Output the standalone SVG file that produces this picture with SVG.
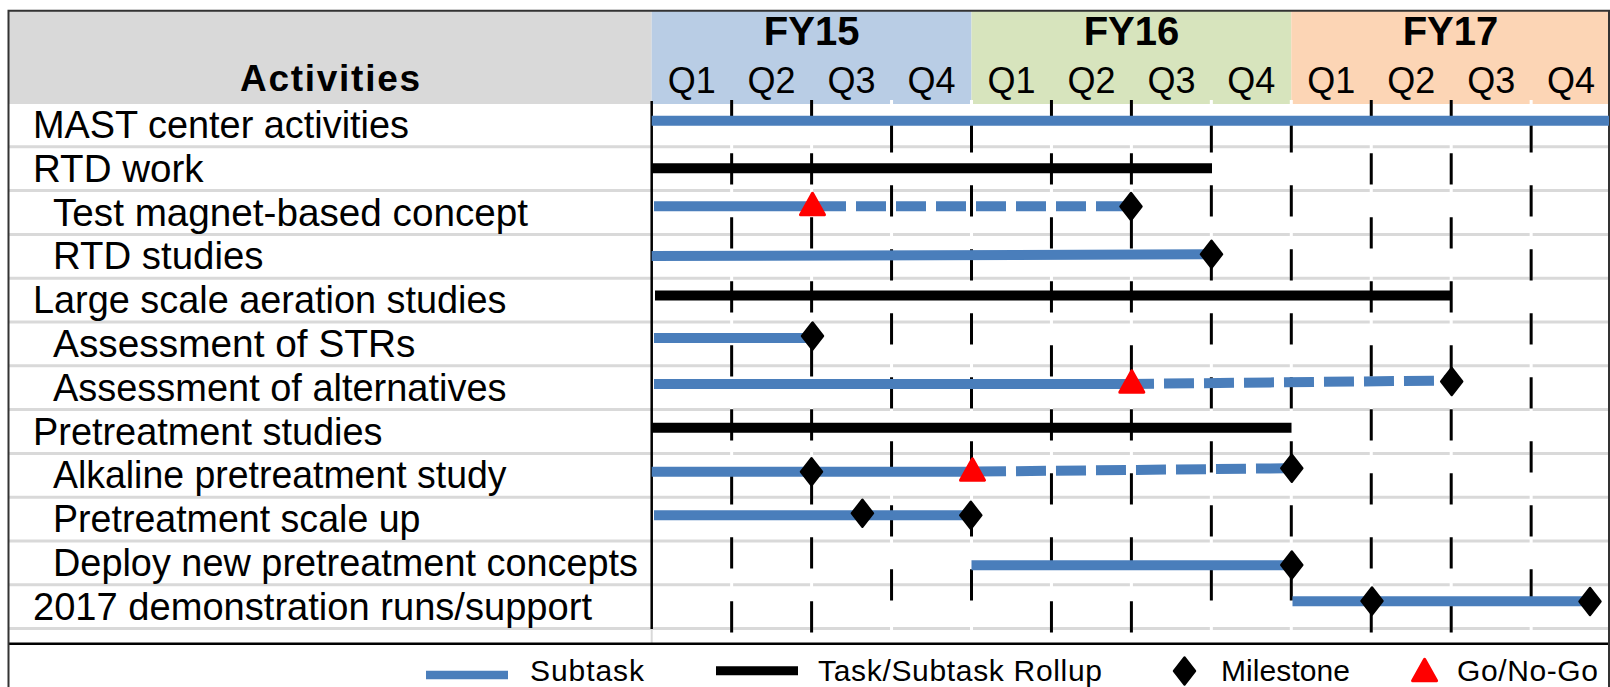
<svg xmlns="http://www.w3.org/2000/svg" width="1610" height="687" viewBox="0 0 1610 687">
<style>
.lbl{font-family:"Liberation Sans",Arial,sans-serif;font-size:38.3px;fill:#000}
.hdr{font-family:"Liberation Sans",Arial,sans-serif;font-weight:bold;fill:#000}
.q{font-family:"Liberation Sans",Arial,sans-serif;font-size:36px;fill:#000;text-anchor:middle}
.leg{font-family:"Liberation Sans",Arial,sans-serif;font-size:30px;fill:#000}
.row{stroke:#d9d9d9;stroke-width:3}
.wv{stroke:#fff;stroke-width:3}
.gA{stroke:#000;stroke-width:3;stroke-dasharray:31.3 32.7;stroke-dashoffset:10.7}
.gB{stroke:#000;stroke-width:3;stroke-dasharray:31.3 32.7;stroke-dashoffset:42.7}
.sub{stroke:#4a7ebb;stroke-width:10;fill:none}
.subd{stroke:#4a7ebb;stroke-width:10;fill:none;stroke-dasharray:30 10}
.roll{stroke:#000;stroke-width:10;fill:none}
</style>
<defs>
<polygon id="dia" points="0,-13.5 10.5,0 0,13.5 -10.5,0" fill="#000" stroke="#000" stroke-width="2.5" stroke-linejoin="round"/>
<polygon id="tri" points="0,-11 12,10.5 -12,10.5" fill="#ff0000" stroke="#ff0000" stroke-width="3" stroke-linejoin="round"/>
</defs>
<rect width="1610" height="687" fill="#fff"/>
<g id="header">
<rect x="8.5" y="10.7" width="643.2" height="93.3" fill="#d9d9d9"/>
<rect x="651.7" y="10.7" width="319.8" height="93.3" fill="#b9cde5"/>
<rect x="971.5" y="10.7" width="319.8" height="93.3" fill="#d7e4bd"/>
<rect x="1291.3" y="10.7" width="318" height="93.3" fill="#fcd5b5"/>
<text class="hdr" x="330" y="91" font-size="37" text-anchor="middle" textLength="180">Activities</text>
<text class="hdr" x="811.6" y="45" font-size="40" text-anchor="middle">FY15</text>
<text class="hdr" x="1131.5" y="45" font-size="40" text-anchor="middle">FY16</text>
<text class="hdr" x="1450.5" y="45" font-size="40" text-anchor="middle">FY17</text>
<text class="q" x="691.7" y="93">Q1</text>
<text class="q" x="771.6" y="93">Q2</text>
<text class="q" x="851.6" y="93">Q3</text>
<text class="q" x="931.5" y="93">Q4</text>
<text class="q" x="1011.5" y="93">Q1</text>
<text class="q" x="1091.4" y="93">Q2</text>
<text class="q" x="1171.4" y="93">Q3</text>
<text class="q" x="1251.3" y="93">Q4</text>
<text class="q" x="1331.3" y="93">Q1</text>
<text class="q" x="1411.2" y="93">Q2</text>
<text class="q" x="1491.2" y="93">Q3</text>
<text class="q" x="1571.1" y="93">Q4</text>
</g>
<g id="grid">
<line class="row" x1="8.5" y1="146.8" x2="1609" y2="146.8"/>
<line class="row" x1="8.5" y1="190.6" x2="1609" y2="190.6"/>
<line class="row" x1="8.5" y1="234.4" x2="1609" y2="234.4"/>
<line class="row" x1="8.5" y1="278.2" x2="1609" y2="278.2"/>
<line class="row" x1="8.5" y1="322" x2="1609" y2="322"/>
<line class="row" x1="8.5" y1="365.8" x2="1609" y2="365.8"/>
<line class="row" x1="8.5" y1="409.6" x2="1609" y2="409.6"/>
<line class="row" x1="8.5" y1="453.4" x2="1609" y2="453.4"/>
<line class="row" x1="8.5" y1="497.2" x2="1609" y2="497.2"/>
<line class="row" x1="8.5" y1="541" x2="1609" y2="541"/>
<line class="row" x1="8.5" y1="584.8" x2="1609" y2="584.8"/>
<line class="row" x1="8.5" y1="628.6" x2="1609" y2="628.6"/>
<g>
<line class="wv" x1="731.65" y1="100" x2="731.65" y2="633"/>
<line class="wv" x1="811.6" y1="100" x2="811.6" y2="633"/>
<line class="wv" x1="891.55" y1="100" x2="891.55" y2="633"/>
<line class="wv" x1="971.5" y1="100" x2="971.5" y2="633"/>
<line class="wv" x1="1051.45" y1="100" x2="1051.45" y2="633"/>
<line class="wv" x1="1131.4" y1="100" x2="1131.4" y2="633"/>
<line class="wv" x1="1211.35" y1="100" x2="1211.35" y2="633"/>
<line class="wv" x1="1291.3" y1="100" x2="1291.3" y2="633"/>
<line class="wv" x1="1371.25" y1="100" x2="1371.25" y2="633"/>
<line class="wv" x1="1451.2" y1="100" x2="1451.2" y2="633"/>
<line class="wv" x1="1531.15" y1="100" x2="1531.15" y2="633"/>
</g>
<g>
<line class="gA" x1="731.65" y1="100" x2="731.65" y2="633"/>
<line class="gA" x1="811.6" y1="100" x2="811.6" y2="633"/>
<line class="gB" x1="891.55" y1="100" x2="891.55" y2="633"/>
<line class="gB" x1="971.5" y1="100" x2="971.5" y2="633"/>
<line class="gA" x1="1051.45" y1="100" x2="1051.45" y2="633"/>
<line class="gA" x1="1131.4" y1="100" x2="1131.4" y2="633"/>
<line class="gB" x1="1211.35" y1="100" x2="1211.35" y2="633"/>
<line class="gB" x1="1291.3" y1="100" x2="1291.3" y2="633"/>
<line class="gA" x1="1371.25" y1="100" x2="1371.25" y2="633"/>
<line class="gA" x1="1451.2" y1="100" x2="1451.2" y2="633"/>
<line class="gB" x1="1531.15" y1="100" x2="1531.15" y2="633"/>
</g>
<line x1="651.7" y1="101" x2="651.7" y2="629" stroke="#000" stroke-width="2.5"/>
<line x1="651.7" y1="629" x2="651.7" y2="643" stroke="#d9d9d9" stroke-width="2"/>
<line x1="8.5" y1="643.7" x2="1609" y2="643.7" stroke="#000" stroke-width="2.5"/>
<path d="M8.5,687 V10.7 H1609 V687" fill="none" stroke="#333" stroke-width="2"/>
</g>
<g id="labels">
<text class="lbl" x="33" y="138" textLength="376" lengthAdjust="spacingAndGlyphs">MAST center activities</text>
<text class="lbl" x="33" y="181.8" textLength="170.5" lengthAdjust="spacingAndGlyphs">RTD work</text>
<text class="lbl" x="53" y="225.6" textLength="475" lengthAdjust="spacingAndGlyphs">Test magnet-based concept</text>
<text class="lbl" x="53" y="269.4" textLength="210.5" lengthAdjust="spacingAndGlyphs">RTD studies</text>
<text class="lbl" x="33" y="313.2" textLength="473.5" lengthAdjust="spacingAndGlyphs">Large scale aeration studies</text>
<text class="lbl" x="53" y="357" textLength="362.5" lengthAdjust="spacingAndGlyphs">Assessment of STRs</text>
<text class="lbl" x="53" y="400.8" textLength="453.5" lengthAdjust="spacingAndGlyphs">Assessment of alternatives</text>
<text class="lbl" x="33" y="444.6" textLength="349.5" lengthAdjust="spacingAndGlyphs">Pretreatment studies</text>
<text class="lbl" x="53" y="488.4" textLength="453.5" lengthAdjust="spacingAndGlyphs">Alkaline pretreatment study</text>
<text class="lbl" x="53" y="532.2" textLength="367.5" lengthAdjust="spacingAndGlyphs">Pretreatment scale up</text>
<text class="lbl" x="53" y="576" textLength="585" lengthAdjust="spacingAndGlyphs">Deploy new pretreatment concepts</text>
<text class="lbl" x="33" y="619.8" textLength="559" lengthAdjust="spacingAndGlyphs">2017 demonstration runs/support</text>
</g>
<g id="bars">
<line class="sub" x1="651.7" y1="120.7" x2="1609" y2="120.7"/>
<line class="roll" x1="651.7" y1="168.3" x2="1212" y2="168.3"/>
<line class="sub" x1="654" y1="206.3" x2="816" y2="206.3"/>
<line class="subd" x1="816" y1="206.3" x2="1126" y2="206.3"/>
<line class="sub" x1="651.7" y1="256" x2="1206" y2="254.3"/>
<line class="roll" x1="655" y1="295.5" x2="1451.7" y2="295.5"/>
<line class="sub" x1="654" y1="338" x2="810" y2="338"/>
<line class="sub" x1="654" y1="384" x2="1124" y2="384"/>
<line class="subd" x1="1124" y1="384" x2="1446" y2="380.5"/>
<line class="roll" x1="651.7" y1="427.7" x2="1291.5" y2="427.7"/>
<line class="sub" x1="651.7" y1="471.7" x2="976" y2="471.7"/>
<line class="subd" x1="976" y1="471.6" x2="1286" y2="468.3"/>
<line class="sub" x1="654" y1="515.3" x2="968" y2="515.3"/>
<line class="sub" x1="971.5" y1="565.3" x2="1289" y2="565.3"/>
<line class="sub" x1="1292.5" y1="601.3" x2="1588" y2="601.3"/>
</g>
<g id="markers">
<use href="#tri" x="812.5" y="204.3"/>
<use href="#dia" x="1131" y="206.5"/>
<use href="#dia" x="1211.5" y="254.3"/>
<use href="#dia" x="812.5" y="336"/>
<use href="#tri" x="1131.8" y="381.8"/>
<use href="#dia" x="1451.7" y="381.5"/>
<use href="#dia" x="811.5" y="471.7"/>
<use href="#tri" x="972.5" y="469.8"/>
<use href="#dia" x="1291.8" y="468.3"/>
<use href="#dia" x="862.4" y="513.3"/>
<use href="#dia" x="970.8" y="515.3"/>
<use href="#dia" x="1291.8" y="565"/>
<use href="#dia" x="1372" y="601"/>
<use href="#dia" x="1590" y="601.5"/>
</g>
<g id="legend">
<line x1="426" y1="675" x2="508" y2="675" stroke="#4a7ebb" stroke-width="8.5"/>
<text class="leg" x="530" y="680.5" textLength="114">Subtask</text>
<line x1="716" y1="670.7" x2="798" y2="670.7" stroke="#000" stroke-width="9"/>
<text class="leg" x="818" y="680.5" textLength="284">Task/Subtask Rollup</text>
<use href="#dia" x="1184.5" y="671"/>
<text class="leg" x="1221" y="680.5" textLength="129">Milestone</text>
<use href="#tri" x="1424.6" y="670.2"/>
<text class="leg" x="1457" y="680.5" textLength="141">Go/No-Go</text>
</g>
</svg>
